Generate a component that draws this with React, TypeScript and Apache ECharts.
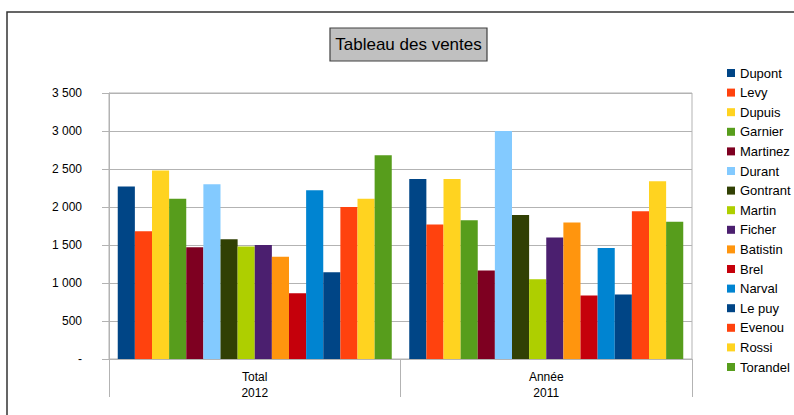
import React, { useEffect, useRef } from "react";
import * as echarts from "echarts";

const categories = ["Total\n2012", "Année\n2011"];
const seriesNames = [
  "Dupont", "Levy", "Dupuis", "Garnier", "Martinez", "Durant", "Gontrant", "Martin",
  "Ficher", "Batistin", "Brel", "Narval", "Le puy", "Evenou", "Rossi", "Torandel",
];
const total2012 = [2270, 1680, 2480, 2110, 1470, 2300, 1575, 1480, 1500, 1345, 865, 2220, 1140, 2000, 2110, 2680];
const annee2011 = [2370, 1770, 2370, 1825, 1165, 3000, 1895, 1050, 1600, 1795, 835, 1460, 850, 1945, 2340, 1805];
const colors = [
  "#004586", "#ff420e", "#ffd320", "#579d1c", "#7e0021", "#83caff", "#314004", "#aecf00",
  "#4b1f6f", "#ff950e", "#c5000b", "#0084d1", "#004586", "#ff420e", "#ffd320", "#579d1c",
];
const yTicks = [0, 500, 1000, 1500, 2000, 2500, 3000, 3500];

const FONT = "'Liberation Sans', Arial, sans-serif";

function fmt(v: number): string {
  if (v === 0) return "-";
  const s = String(v);
  return s.replace(/\B(?=(\d{3})+(?!\d))/g, " ");
}

export default function App() {
  const ref = useRef<HTMLDivElement>(null);
  useEffect(() => {
    if (!ref.current) return;
    const chart = echarts.init(ref.current, null, { renderer: "svg" });
    chart.setOption({
      animation: false,
      color: colors,
      textStyle: { fontFamily: FONT },
      grid: {
        left: 109,
        right: 102,
        top: 93,
        bottom: 56,
        show: true,
        borderColor: "#b3b3b3",
        borderWidth: 1,
        backgroundColor: "transparent",
      },
      legend: {
        orient: "vertical",
        left: 727,
        top: 66,
        padding: 0,
        itemWidth: 8,
        itemHeight: 8,
        itemGap: 5.6,
        icon: "rect",
        data: seriesNames,
        textStyle: { fontFamily: FONT, fontSize: 13, color: "#000", lineHeight: 14 },
      },
      xAxis: {
        type: "category",
        data: categories,
        axisLine: { show: true, lineStyle: { color: "#b3b3b3" } },
        axisTick: { show: true, length: 38, lineStyle: { color: "#b3b3b3" } },
        axisLabel: { margin: 10, fontSize: 12, lineHeight: 16, color: "#000", fontFamily: FONT },
        splitLine: { show: false },
      },
      yAxis: {
        type: "value",
        min: 0,
        max: 3500,
        interval: 500,
        axisLine: { show: true, lineStyle: { color: "#b3b3b3" } },
        axisTick: { show: true, length: 7, lineStyle: { color: "#b3b3b3" } },
        axisLabel: {
          margin: 27,
          fontSize: 12,
          color: "#000",
          fontFamily: FONT,
          formatter: (v: number) => (yTicks.includes(v) ? fmt(v) : ""),
        },
        splitLine: { show: true, lineStyle: { color: "#b3b3b3" } },
      },
      series: seriesNames.map((name, i) => ({
        name,
        type: "bar",
        data: [total2012[i], annee2011[i]],
        barGap: "0%",
        barCategoryGap: "6%",
        itemStyle: { color: colors[i] },
      })),
      graphic: [
        {
          type: "rect",
          shape: { x: 7, y: 12, width: 800, height: 420 },
          style: { fill: "none", stroke: "#333", lineWidth: 1.5 },
          silent: true,
        },
        {
          type: "rect",
          shape: { x: 330, y: 28, width: 157, height: 33 },
          style: { fill: "#c0c0c0", stroke: "#404040", lineWidth: 1.2 },
          silent: true,
        },
        {
          type: "text",
          x: 408.5,
          y: 44.5,
          style: {
            text: "Tableau des ventes",
            fill: "#000",
            font: `17px ${FONT}`,
            align: "center",
            verticalAlign: "middle",
          },
          silent: true,
        },
      ],
    });
    return () => chart.dispose();
  }, []);
  return (
    <div
      ref={ref}
      style={{ position: "fixed", left: 0, top: 0, width: 794, height: 415, background: "#fff" }}
    />
  );
}
